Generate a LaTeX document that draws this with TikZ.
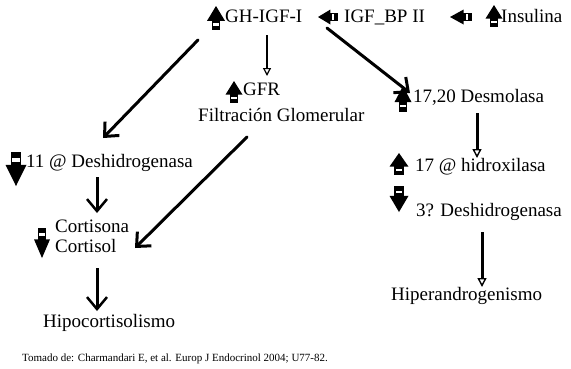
\documentclass[tikz,border=0pt]{standalone}
\usepackage{fontspec}
\setmainfont{Liberation Serif}
\usetikzlibrary{arrows.meta}
\tikzset{
  lbl/.style={anchor=base west, inner sep=0pt, font=\rmfamily\fontsize{19}{22}\selectfont},
  capt/.style={anchor=base west, inner sep=0pt, font=\rmfamily\fontsize{11}{13}\selectfont},
  diagarr/.style={line width=3pt, line cap=round, -{Straight Barb[length=11pt,width=20pt,line width=3pt]}},
  barbarr/.style={line width=3pt, -{Straight Barb[length=12pt,width=20pt,line width=2.5pt]}},
  thinarr/.style={line width=2pt, -{Triangle[open,length=8pt,width=8pt,line width=1.2pt]}},
  medarr/.style={line width=3pt, -{Triangle[open,length=9pt,width=9pt,line width=1.4pt]}},
}
\newcommand{\blkarrow}[5]{%
  \begin{scope}[shift={(#1,#2)},rotate=#5]
    \fill (-#3/2,0.12*#4) -- (0,-#4/2) -- (#3/2,0.12*#4) -- cycle;
    \fill (-0.24*#3,0.1*#4) rectangle (0.24*#3,#4/2);
    \fill[white] (-0.17*#3,0.22*#4) rectangle (0.17*#3,0.32*#4);
  \end{scope}}
\begin{document}
\begin{tikzpicture}[x=1pt,y=-1pt]
\useasboundingbox[fill=white] (0,0) rectangle (571,368);
% text nodes
\node[lbl] (gh) at (225,22) {GH-IGF-I};
\node[lbl] (igf) at (344,22) {IGF\_BP II};
\node[lbl] (ins) at (501,22) {Insulina};
\node[lbl] (gfr) at (243,95) {GFR};
\node[lbl] (filt) at (198,121) {Filtración Glomerular};
\node[lbl] (desm) at (413,102) {17,20 Desmolasa};
\node[lbl] (hidrox) at (415,171) {17 @ hidroxilasa};
\node[lbl] (tres) at (416,216) {3? Deshidrogenasa};
\node[lbl] (hiper) at (391,300) {Hiperandrogenismo};
\node[lbl] (once) at (26,167) {11 @ Deshidrogenasa};
\node[lbl] (cortisona) at (55,232) {Cortisona};
\node[lbl] (cortisol) at (55,252) {Cortisol};
\node[lbl] (hipo) at (43,327) {Hipocortisolismo};
\node[capt] (src) at (22,361) {Tomado de: Charmandari E, et al. Europ J Endocrinol 2004; U77-82.};
% block arrows
\blkarrow{216}{18}{18}{24}{0}
\blkarrow{328}{17}{15}{20}{90}
\blkarrow{461}{17}{15}{22}{90}
\blkarrow{494}{16}{17}{22}{0}
\blkarrow{234}{92}{17}{22}{0}
\blkarrow{403}{99}{17}{26}{0}
\blkarrow{399}{164}{19}{22}{0}
\blkarrow{399}{199}{19}{26}{180}
\blkarrow{16}{169}{21}{34}{180}
\blkarrow{42}{243}{16}{30}{180}
% connector end points
\coordinate (ghL) at (198,40);
\coordinate (onceT) at (103,138);
\coordinate (ghM) at (267,35);
\coordinate (gfrT) at (267,76);
\coordinate (ghR) at (327,28);
\coordinate (desmT) at (410,93);
\coordinate (filtB) at (247,137);
\coordinate (cortT) at (135,248);
\coordinate (onceB) at (97,177);
\coordinate (cortisonaT) at (97,213);
\coordinate (cortisolB) at (97,268);
\coordinate (hipoT) at (97,311);
\coordinate (desmB) at (477,113);
\coordinate (hidroxT) at (477,158);
\coordinate (tresB) at (482,232);
\coordinate (hiperT) at (482,287);
% connectors
\draw[diagarr] (ghL) -- (onceT);
\draw[thinarr] (ghM) -- (gfrT);
\draw[diagarr] (ghR) -- (desmT);
\draw[diagarr] (filtB) -- (cortT);
\draw[barbarr] (onceB) -- (cortisonaT);
\draw[barbarr] (cortisolB) -- (hipoT);
\draw[medarr] (desmB) -- (hidroxT);
\draw[medarr] (tresB) -- (hiperT);
\end{tikzpicture}
\end{document}
